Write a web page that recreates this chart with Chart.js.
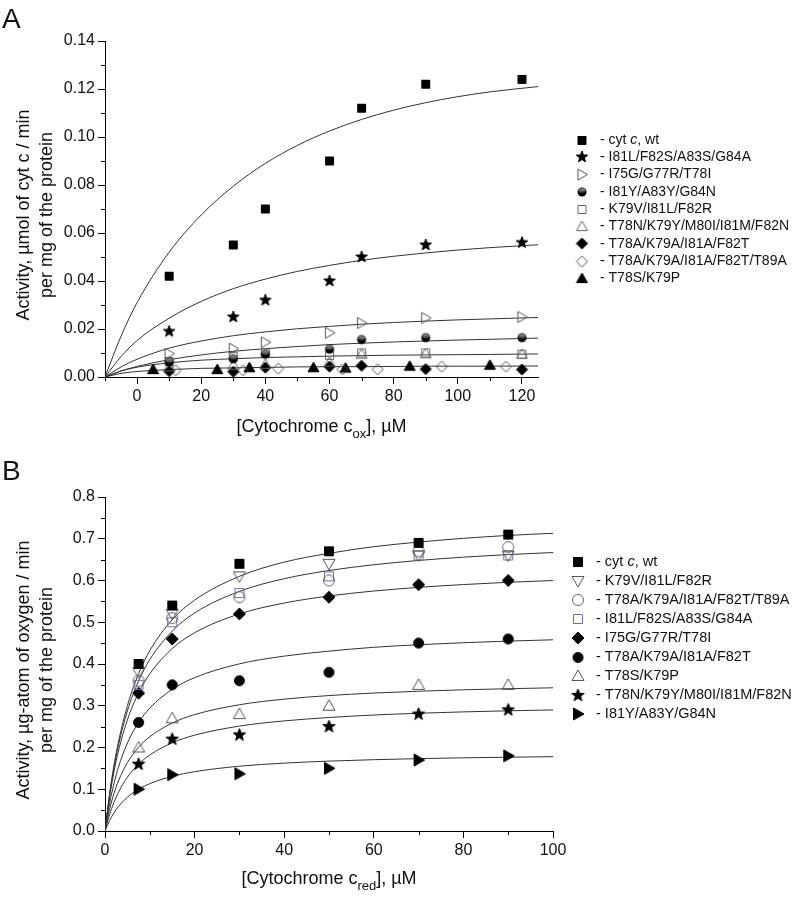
<!DOCTYPE html>
<html lang="en">
<head>
  <meta charset="UTF-8">
  <title>Cytochrome c mutants: activity</title>
  <script src="https://cdn.jsdelivr.net/npm/chart.js"></script>
  <style>
    body { margin: 0; background: #fff; }
    #wrap { position: relative; width: 800px; height: 897px; }
    canvas { position: absolute; left: 0; }
    #chartA { top: 0; }
    #chartB { top: 440px; }
  </style>
</head>
<body>
  <div id="wrap">
    <canvas id="chartA" width="800" height="440"></canvas>
    <canvas id="chartB" width="800" height="457"></canvas>
  </div>

  <script>
    // ---------- panel A: oxidised cytochrome c ----------
    const xA = [10, 30, 40, 60, 70, 90, 120];
    const aWt   = [0.042, 0.055, 0.070, 0.090, 0.112, 0.122, 0.124];
    const aI81L = [0.019, 0.025, 0.032, 0.040, 0.050, 0.055, 0.056];
    const aI75G = [0.0097, 0.0118, 0.0145, 0.0184, 0.0225, 0.0246, 0.025];
    const aI81Y = [0.0062, 0.0076, 0.0095, 0.0116, 0.0156, 0.0164, 0.0164];
    const aK79V = [0.0065, 0.0085, 0.0100, 0.0090, 0.0100, 0.0100, 0.0095];
    const aT78N = [0.0042, 0.0049, 0.0053, 0.0062, 0.0095, 0.0097, 0.0095];
    const aT78A = [0.0024, 0.0022, 0.0039, 0.0043, 0.0047, 0.0033, 0.0031];
    const xA89  = [12, 33, 44, 64, 75, 95, 115];
    const aT89A = [0.0028, 0.0028, 0.0035, 0.0032, 0.0032, 0.0043, 0.0043];
    const xA79P = [5, 25, 35, 55, 65, 85, 110];
    const aT78S = [0.0031, 0.0031, 0.0039, 0.0039, 0.0037, 0.0045, 0.0049];

    // fitted curves
    const fitXA = [-10, -5, 0, 10, 20, 30, 40, 50, 60, 70, 80, 90, 100, 110, 125];
    const fitA1 = [0, 0.017, 0.031, 0.052, 0.0675, 0.0795, 0.089, 0.0965, 0.1025, 0.1073, 0.1112, 0.1143, 0.1168, 0.1188, 0.121];
    const fitA2 = [0, 0.0085, 0.0152, 0.0245, 0.0315, 0.0368, 0.0408, 0.044, 0.0465, 0.0486, 0.0503, 0.0517, 0.0529, 0.0539, 0.0551];
    const fitA3 = [0, 0.0042, 0.0074, 0.012, 0.015, 0.0172, 0.0188, 0.0201, 0.0211, 0.022, 0.0227, 0.0233, 0.0238, 0.0242, 0.0248];
    const fitA4 = [0, 0.0025, 0.0044, 0.0072, 0.0092, 0.0107, 0.0118, 0.0127, 0.0135, 0.0141, 0.0146, 0.015, 0.0154, 0.0157, 0.0162];
    const fitA5 = [0, 0.0025, 0.0041, 0.0059, 0.007, 0.0076, 0.0081, 0.0084, 0.0087, 0.0089, 0.0091, 0.0092, 0.0093, 0.0094, 0.0096];
    const fitA6 = [0, 0.0015, 0.0023, 0.0031, 0.0036, 0.0038, 0.004, 0.0042, 0.0043, 0.0043, 0.0044, 0.0045, 0.0045, 0.0045, 0.0046];

    const tickXA = [0, 20, 40, 60, 80, 100, 120];
    const minorXA = [-10, 10, 30, 50, 70, 90, 110];
    const tickYA = [0, 0.02, 0.04, 0.06, 0.08, 0.10, 0.12, 0.14];
    const minorYA = [0.01, 0.03, 0.05, 0.07, 0.09, 0.11, 0.13];

    // ---------- panel B: reduced cytochrome c ----------
    const xB = [7.5, 15, 30, 50, 70, 90];
    const bWt   = [0.40, 0.54, 0.64, 0.67, 0.69, 0.71];
    const bK79V = [0.38, 0.52, 0.61, 0.64, 0.66, 0.66];
    const bT89A = [0.36, 0.51, 0.56, 0.60, 0.67, 0.68];
    const bI81L = [0.35, 0.50, 0.57, 0.61, 0.66, 0.66];
    const bI75G = [0.33, 0.46, 0.52, 0.56, 0.59, 0.60];
    const bT78A = [0.26, 0.35, 0.36, 0.38, 0.45, 0.46];
    const bT78S = [0.20, 0.27, 0.28, 0.30, 0.35, 0.35];
    const bT78N = [0.16, 0.22, 0.23, 0.25, 0.28, 0.29];
    const bI81Y = [0.10, 0.135, 0.137, 0.15, 0.17, 0.18];

    const fitXB = [0, 1, 2, 3, 5, 7.5, 10, 15, 20, 30, 40, 50, 60, 70, 80, 90, 100];
    const fitB1 = [0, 0.0874, 0.157, 0.2136, 0.300, 0.377, 0.432, 0.506, 0.553, 0.610, 0.644, 0.665, 0.681, 0.692, 0.701, 0.708, 0.713];
    const fitB2 = [0, 0.0848, 0.1516, 0.2056, 0.2877, 0.3595, 0.4106, 0.4787, 0.5222, 0.574, 0.6043, 0.6239, 0.6377, 0.648, 0.6559, 0.6621, 0.667];
    const fitB3 = [0, 0.0797, 0.1418, 0.1916, 0.2663, 0.3309, 0.3765, 0.4369, 0.4748, 0.520, 0.546, 0.5629, 0.5748, 0.5835, 0.5903, 0.5957, 0.600];
    const fitB4 = [0, 0.0644, 0.1138, 0.1528, 0.2108, 0.26, 0.2944, 0.3393, 0.3673, 0.4003, 0.4189, 0.4308, 0.440, 0.4462, 0.451, 0.4548, 0.458];
    const fitB5 = [0, 0.0512, 0.0898, 0.1199, 0.1638, 0.2006, 0.2259, 0.2585, 0.2788, 0.3024, 0.3158, 0.3244, 0.3304, 0.3348, 0.3382, 0.3408, 0.343];
    const fitB6 = [0, 0.0386, 0.0686, 0.0927, 0.1288, 0.16, 0.182, 0.2113, 0.2295, 0.2513, 0.2637, 0.2718, 0.2778, 0.282, 0.2853, 0.2879, 0.29];
    const fitB7 = [0, 0.0245, 0.0434, 0.0585, 0.0809, 0.1, 0.1134, 0.131, 0.1421, 0.1552, 0.1626, 0.1674, 0.1708, 0.1733, 0.1753, 0.1767, 0.178];

    const tickXB = [0, 20, 40, 60, 80, 100];
    const minorXB = [10, 30, 50, 70, 90];
    const tickYB = [0, 0.1, 0.2, 0.3, 0.4, 0.5, 0.6, 0.7, 0.8];
    const minorYB = [0.05, 0.15, 0.25, 0.35, 0.45, 0.55, 0.65, 0.75];

    const FONT = "'Liberation Sans', Arial, sans-serif";

    // symbols drawn into small canvases, used as pointStyle and in the legend
    function marker(shape, size, fill, stroke) {
      const pad = 2;
      const c = document.createElement('canvas');
      c.width = c.height = size + pad * 2;
      const g = c.getContext('2d');
      const m = c.width / 2, r = size / 2;
      g.lineWidth = 1;
      g.strokeStyle = stroke || '#000';
      g.fillStyle = fill || 'rgba(0,0,0,0)';
      g.beginPath();
      if (shape === 'square') {
        g.rect(m - r + 0.5, m - r + 0.5, size - 1, size - 1);
      } else if (shape === 'circle') {
        g.arc(m, m, r - 0.5, 0, Math.PI * 2);
      } else if (shape === 'diamond') {
        g.moveTo(m, m - r); g.lineTo(m + r, m); g.lineTo(m, m + r); g.lineTo(m - r, m); g.closePath();
      } else if (shape === 'triUp') {
        g.moveTo(m, m - r); g.lineTo(m + r, m + r * 0.75); g.lineTo(m - r, m + r * 0.75); g.closePath();
      } else if (shape === 'triDown') {
        g.moveTo(m, m + r); g.lineTo(m + r, m - r * 0.75); g.lineTo(m - r, m - r * 0.75); g.closePath();
      } else if (shape === 'triRight') {
        g.moveTo(m + r, m); g.lineTo(m - r * 0.75, m - r); g.lineTo(m - r * 0.75, m + r); g.closePath();
      } else if (shape === 'star') {
        for (let i = 0; i < 10; i++) {
          const a = -Math.PI / 2 + i * Math.PI / 5;
          const rr = i % 2 ? r * 0.42 : r;
          const px = m + rr * Math.cos(a), py = m + rr * Math.sin(a);
          if (i) g.lineTo(px, py); else g.moveTo(px, py);
        }
        g.closePath();
      } else if (shape === 'ball') {
        g.arc(m, m, r - 0.5, 0, Math.PI * 2);
        g.fillStyle = '#000';
        g.fill();
        g.beginPath();
        g.ellipse(m, m - r * 0.3, r * 0.7, r * 0.45, 0, 0, Math.PI * 2);
        const gr = g.createLinearGradient(0, m - r, 0, m);
        gr.addColorStop(0, '#bbb');
        gr.addColorStop(1, '#444');
        g.fillStyle = gr;
        g.fill();
        return c;
      }
      if (fill) g.fill();
      g.stroke();
      return c;
    }

    const mA = {
      wt:   marker('square', 9, '#000', '#000'),
      i81l: marker('star', 12, '#000', '#000'),
      i75g: marker('triRight', 11, null, '#555'),
      i81y: marker('ball', 10),
      k79v: marker('square', 9, null, '#666'),
      t78n: marker('triUp', 11, null, '#666'),
      t78a: marker('diamond', 11, '#000', '#000'),
      t89a: marker('diamond', 11, null, '#555'),
      t78s: marker('triUp', 11, '#000', '#000')
    };
    const mB = {
      wt:   marker('square', 10, '#000', '#000'),
      k79v: marker('triDown', 12, null, '#555'),
      t89a: marker('circle', 12, null, '#666'),
      i81l: marker('square', 10, null, '#6f6fa8'),
      i75g: marker('diamond', 12, '#000', '#000'),
      t78a: marker('circle', 11, '#000', '#000'),
      t78s: marker('triUp', 12, null, '#555'),
      t78n: marker('star', 13, '#000', '#000'),
      i81y: marker('triRight', 12, '#000', '#000')
    };

    function pts(xs, ys) { return xs.map((x, i) => ({ x: x, y: ys[i] })); }

    function pointSet(xs, ys, style) {
      return { data: pts(xs, ys), showLine: false, pointStyle: style, pointRadius: 5, order: 0 };
    }
    function curveSet(xs, ys) {
      return {
        data: pts(xs, ys), showLine: true, pointRadius: 0, borderColor: '#333', borderWidth: 1,
        cubicInterpolationMode: 'monotone', order: 1
      };
    }

    // minor ticks, axis titles, panel letter and legend
    function decorPlugin(cfg) {
      return {
        id: 'decor',
        afterDraw(chart) {
          const ctx = chart.ctx, area = chart.chartArea;
          const sx = chart.scales.x, sy = chart.scales.y;
          ctx.save();
          ctx.strokeStyle = '#000';
          ctx.lineWidth = 1;
          cfg.minorX.forEach(v => {
            const px = Math.round(sx.getPixelForValue(v)) + 0.5;
            ctx.beginPath(); ctx.moveTo(px, area.bottom); ctx.lineTo(px, area.bottom + 4); ctx.stroke();
          });
          cfg.minorY.forEach(v => {
            const py = Math.round(sy.getPixelForValue(v)) + 0.5;
            ctx.beginPath(); ctx.moveTo(area.left, py); ctx.lineTo(area.left - 4, py); ctx.stroke();
          });

          ctx.fillStyle = '#111';
          // panel letter
          ctx.font = '28px ' + FONT;
          ctx.textBaseline = 'alphabetic';
          ctx.textAlign = 'left';
          ctx.fillText(cfg.letter, 2, cfg.letterY);

          // y title, two lines
          ctx.save();
          ctx.translate(0, (area.top + area.bottom) / 2 + 6);
          ctx.rotate(-Math.PI / 2);
          ctx.font = '18px ' + FONT;
          ctx.textAlign = 'center';
          ctx.textBaseline = 'middle';
          ctx.fillText(cfg.yTitle[0], 0, 24);
          ctx.fillText(cfg.yTitle[1], 0, 47);
          ctx.restore();

          // x title with subscript
          const parts = [['[Cytochrome c', 18, 0], [cfg.sub, 13, 6], ['], \u00b5M', 18, 0]];
          let total = 0;
          parts.forEach(p => { ctx.font = p[1] + 'px ' + FONT; total += ctx.measureText(p[0]).width; });
          let tx = (area.left + area.right) / 2 - total / 2;
          ctx.textAlign = 'left';
          ctx.textBaseline = 'alphabetic';
          parts.forEach(p => {
            ctx.font = p[1] + 'px ' + FONT;
            ctx.fillText(p[0], tx, cfg.xTitleY + p[2]);
            tx += ctx.measureText(p[0]).width;
          });

          // legend
          ctx.textBaseline = 'middle';
          cfg.legend.forEach((item, i) => {
            const y = cfg.legY + i * cfg.legStep;
            const img = item[0];
            ctx.drawImage(img, cfg.legMX - img.width / 2, Math.round(y - img.height / 2));
            let lx = cfg.legTX;
            item[1].forEach(seg => {
              ctx.font = (seg[1] ? 'italic ' : '') + cfg.legFont + 'px ' + FONT;
              ctx.fillText(seg[0], lx, y);
              lx += ctx.measureText(seg[0]).width;
            });
          });
          ctx.restore();
        }
      };
    }

    function axisOpts(ticks, min, max, fmt, isY, fitSize) {
      return {
        type: 'linear',
        min: min, max: max,
        afterBuildTicks: s => { s.ticks = ticks.map(v => ({ value: v })); },
        afterFit: s => { if (isY) s.width = fitSize; else s.height = fitSize; },
        grid: { drawOnChartArea: false, drawTicks: true, tickLength: 7, tickColor: '#000', color: '#000' },
        border: { display: true, color: '#000', width: 1 },
        ticks: { color: '#111', font: { family: FONT, size: 16 }, padding: 3, callback: fmt, maxRotation: 0, autoSkip: false }
      };
    }

    function baseOptions(xAxis, yAxis, pad) {
      return {
        responsive: false,
        animation: false,
        devicePixelRatio: 1,
        layout: { padding: pad },
        plugins: { legend: { display: false }, tooltip: { enabled: false } },
        scales: { x: xAxis, y: yAxis }
      };
    }

    const cytc = [['- cyt ', 0], ['c', 1], [', wt', 0]];

    new Chart(document.getElementById('chartA'), {
      type: 'scatter',
      data: {
        datasets: [
          pointSet(xA, aWt, mA.wt),
          pointSet(xA, aI81L, mA.i81l),
          pointSet(xA, aI75G, mA.i75g),
          pointSet(xA, aI81Y, mA.i81y),
          pointSet(xA, aK79V, mA.k79v),
          pointSet(xA, aT78N, mA.t78n),
          pointSet(xA, aT78A, mA.t78a),
          pointSet(xA89, aT89A, mA.t89a),
          pointSet(xA79P, aT78S, mA.t78s),
          curveSet(fitXA, fitA1),
          curveSet(fitXA, fitA2),
          curveSet(fitXA, fitA3),
          curveSet(fitXA, fitA4),
          curveSet(fitXA, fitA5),
          curveSet(fitXA, fitA6)
        ]
      },
      options: baseOptions(
        axisOpts(tickXA, -10, 125, v => String(v), false, 63),
        axisOpts(tickYA, 0, 0.14, v => v.toFixed(2), true, 105),
        { top: 41, right: 262, left: 0, bottom: 0 }
      ),
      plugins: [decorPlugin({
        letter: 'A', letterY: 28, sub: 'ox', xTitleY: 432,
        minorX: minorXA, minorY: minorYA,
        yTitle: ['Activity, \u00b5mol of cyt c / min', 'per mg of the protein'],
        legMX: 582, legTX: 600, legY: 140, legStep: 17.3, legFont: 14,
        legend: [
          [mA.wt, cytc],
          [mA.i81l, [['- I81L/F82S/A83S/G84A', 0]]],
          [mA.i75g, [['- I75G/G77R/T78I', 0]]],
          [mA.i81y, [['- I81Y/A83Y/G84N', 0]]],
          [mA.k79v, [['- K79V/I81L/F82R', 0]]],
          [mA.t78n, [['- T78N/K79Y/M80I/I81M/F82N', 0]]],
          [mA.t78a, [['- T78A/K79A/I81A/F82T', 0]]],
          [mA.t89a, [['- T78A/K79A/I81A/F82T/T89A', 0]]],
          [mA.t78s, [['- T78S/K79P', 0]]]
        ]
      })]
    });

    new Chart(document.getElementById('chartB'), {
      type: 'scatter',
      data: {
        datasets: [
          pointSet(xB, bWt, mB.wt),
          pointSet(xB, bK79V, mB.k79v),
          pointSet(xB, bT89A, mB.t89a),
          pointSet(xB, bI81L, mB.i81l),
          pointSet(xB, bI75G, mB.i75g),
          pointSet(xB, bT78A, mB.t78a),
          pointSet(xB, bT78S, mB.t78s),
          pointSet(xB, bT78N, mB.t78n),
          pointSet(xB, bI81Y, mB.i81y),
          curveSet(fitXB, fitB1),
          curveSet(fitXB, fitB2),
          curveSet(fitXB, fitB3),
          curveSet(fitXB, fitB4),
          curveSet(fitXB, fitB5),
          curveSet(fitXB, fitB6),
          curveSet(fitXB, fitB7)
        ]
      },
      options: baseOptions(
        axisOpts(tickXB, 0, 100, v => String(v), false, 66),
        axisOpts(tickYB, 0, 0.8, v => v.toFixed(1), true, 105),
        { top: 57, right: 247, left: 0, bottom: 0 }
      ),
      plugins: [decorPlugin({
        letter: 'B', letterY: 40, sub: 'red', xTitleY: 444,
        minorX: minorXB, minorY: minorYB,
        yTitle: ['Activity, \u00b5g-atom of oxygen / min', 'per mg of the protein'],
        legMX: 578, legTX: 596, legY: 122, legStep: 19, legFont: 14.5,
        legend: [
          [mB.wt, cytc],
          [mB.k79v, [['- K79V/I81L/F82R', 0]]],
          [mB.t89a, [['- T78A/K79A/I81A/F82T/T89A', 0]]],
          [mB.i81l, [['- I81L/F82S/A83S/G84A', 0]]],
          [mB.i75g, [['- I75G/G77R/T78I', 0]]],
          [mB.t78a, [['- T78A/K79A/I81A/F82T', 0]]],
          [mB.t78s, [['- T78S/K79P', 0]]],
          [mB.t78n, [['- T78N/K79Y/M80I/I81M/F82N', 0]]],
          [mB.i81y, [['- I81Y/A83Y/G84N', 0]]]
        ]
      })]
    });
  </script>
</body>
</html>
